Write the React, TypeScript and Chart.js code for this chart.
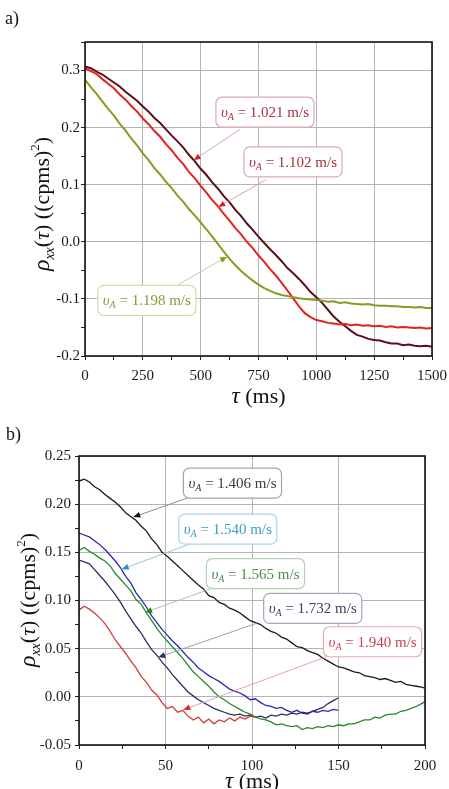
import { useEffect, useRef } from "react";
import { Chart, registerables } from "chart.js";

Chart.register(...registerables);

const FAMILY = '"Liberation Serif", "DejaVu Serif", "Times New Roman", serif';

// ---- panel a) : correlation vs delay, 0–1500 ms ----
const tA = [
  0, 25, 50, 75, 100, 125, 150, 175, 200, 225, 250, 275, 300, 325, 350, 375, 400, 425, 450, 475,
  500, 525, 550, 575, 600, 625, 650, 675, 700, 725, 750, 775, 800, 825, 850, 875, 900, 925, 950, 975,
  1000, 1025, 1050, 1075, 1100, 1125, 1150, 1175, 1200, 1225, 1250, 1275, 1300, 1325, 1350, 1375,
  1400, 1425, 1450, 1475, 1500,
];
const rho1021 = [
  0.307, 0.304, 0.298, 0.293, 0.286, 0.279, 0.272, 0.263, 0.255, 0.247, 0.237, 0.228, 0.217, 0.208,
  0.197, 0.186, 0.176, 0.165, 0.152, 0.141, 0.128, 0.117, 0.104, 0.093, 0.08, 0.069, 0.056, 0.045,
  0.032, 0.021, 0.009, -0.002, -0.013, -0.023, -0.034, -0.046, -0.055, -0.065, -0.076, -0.088,
  -0.097, -0.107, -0.119, -0.131, -0.14, -0.148, -0.156, -0.163, -0.166, -0.17, -0.172, -0.173,
  -0.176, -0.178, -0.178, -0.181, -0.18, -0.182, -0.183, -0.182, -0.184,
];
const rho1102 = [
  0.304, 0.299, 0.294, 0.285, 0.277, 0.269, 0.258, 0.249, 0.238, 0.228, 0.216, 0.206, 0.194, 0.184,
  0.171, 0.16, 0.147, 0.136, 0.122, 0.111, 0.098, 0.086, 0.073, 0.062, 0.049, 0.037, 0.024, 0.013,
  0.0, -0.011, -0.024, -0.035, -0.048, -0.059, -0.072, -0.085, -0.099, -0.113, -0.125, -0.132,
  -0.137, -0.139, -0.142, -0.143, -0.145, -0.144, -0.146, -0.145, -0.147, -0.146, -0.148, -0.147,
  -0.149, -0.148, -0.15, -0.149, -0.15, -0.151, -0.15, -0.152, -0.151,
];
const rho1198 = [
  0.284, 0.271, 0.259, 0.246, 0.233, 0.221, 0.207, 0.195, 0.181, 0.169, 0.155, 0.143, 0.129, 0.118,
  0.105, 0.094, 0.081, 0.07, 0.057, 0.046, 0.034, 0.022, 0.009, -0.004, -0.017, -0.03, -0.041,
  -0.051, -0.06, -0.068, -0.075, -0.081, -0.086, -0.09, -0.093, -0.095, -0.097, -0.099, -0.1,
  -0.101, -0.102, -0.103, -0.105, -0.104, -0.107, -0.106, -0.108, -0.109, -0.11, -0.109, -0.111,
  -0.112, -0.112, -0.113, -0.113, -0.114, -0.114, -0.115, -0.114, -0.116, -0.116,
];

// ---- panel b) : correlation vs delay, 0–200 ms ----
const tB = [
  0, 3, 6, 9, 12, 15, 18, 21, 24, 27, 30, 33, 36, 39, 42, 45, 48, 51, 54, 57, 60, 63, 66, 69, 72, 75,
  78, 81, 84, 87, 90, 93, 96, 99, 102, 105, 108, 111, 114, 117, 120, 123, 126, 129, 132, 135, 138,
  141, 144, 147, 150, 153, 156, 159, 162, 165, 168, 171, 174, 177, 180, 183, 186, 189, 192, 195, 198,
  200,
];
const rho1406 = [
  0.224, 0.226, 0.223, 0.218, 0.215, 0.21, 0.206, 0.202, 0.197, 0.191, 0.187, 0.183, 0.177, 0.172,
  0.164, 0.158, 0.15, 0.146, 0.141, 0.136, 0.131, 0.126, 0.121, 0.116, 0.112, 0.105, 0.103, 0.098,
  0.096, 0.092, 0.09, 0.087, 0.083, 0.079, 0.077, 0.075, 0.071, 0.068, 0.066, 0.062, 0.06, 0.056,
  0.052, 0.051, 0.048, 0.046, 0.044, 0.04, 0.037, 0.034, 0.031, 0.03, 0.028, 0.026, 0.025, 0.022,
  0.021, 0.02, 0.018, 0.019, 0.017, 0.015, 0.016, 0.013, 0.012, 0.011, 0.01, 0.009,
];
const rho1540 = [
  0.17, 0.168, 0.166, 0.162, 0.158, 0.153, 0.147, 0.141, 0.134, 0.125, 0.118, 0.108, 0.101, 0.093,
  0.084, 0.077, 0.07, 0.064, 0.058, 0.053, 0.047, 0.041, 0.036, 0.03, 0.026, 0.022, 0.019, 0.016,
  0.012, 0.008, 0.006, 0.004, 0.001, -0.003, -0.002, -0.006, -0.009, -0.01, -0.012, -0.011, -0.014,
  -0.016, -0.014, -0.017, -0.018, -0.015, -0.016, -0.014, -0.015, -0.013, -0.014,
];
const rho1565 = [
  0.152, 0.155, 0.151, 0.148, 0.144, 0.141, 0.136, 0.128, 0.122, 0.116, 0.11, 0.101, 0.096, 0.087,
  0.079, 0.071, 0.064, 0.058, 0.052, 0.046, 0.04, 0.033, 0.026, 0.021, 0.016, 0.011, 0.005, 0.0,
  -0.003, -0.007, -0.01, -0.013, -0.016, -0.018, -0.021, -0.023, -0.024, -0.026, -0.029, -0.028,
  -0.03, -0.031, -0.03, -0.034, -0.032, -0.033, -0.031, -0.032, -0.03, -0.031, -0.029, -0.03, -0.028,
  -0.028, -0.026, -0.024, -0.024, -0.021, -0.022, -0.019, -0.018, -0.018, -0.015, -0.014, -0.012,
  -0.01, -0.007, -0.005,
];
const rho1732 = [
  0.142, 0.14, 0.138, 0.132, 0.126, 0.12, 0.113, 0.106, 0.098, 0.089, 0.081, 0.073, 0.066, 0.057,
  0.049, 0.043, 0.036, 0.03, 0.023, 0.017, 0.011, 0.005, 0.001, -0.003, -0.006, -0.009, -0.012,
  -0.014, -0.016, -0.018, -0.019, -0.018, -0.02, -0.019, -0.021, -0.02, -0.022, -0.019, -0.02,
  -0.018, -0.019, -0.017, -0.018, -0.016, -0.017, -0.015, -0.013, -0.011, -0.007, -0.004, -0.001,
];
const rho1940 = [
  0.09, 0.094, 0.091, 0.087, 0.082, 0.076, 0.068, 0.059, 0.052, 0.045, 0.037, 0.03, 0.021, 0.015,
  0.007, 0.002, -0.006, -0.012, -0.01, -0.016, -0.014, -0.02, -0.024, -0.021, -0.027, -0.023, -0.028,
  -0.024, -0.026, -0.022, -0.025, -0.021, -0.023, -0.02, -0.021,
];

type Pt = [number, number];
type Callout = {
  speed: string;
  text: string;
  border: string;
  line: string;
  head: string;
  box: Pt;
  from: Pt;
  tip: Pt;
};

// callout boxes with leader arrows, placed in data units
const calloutsA: Callout[] = [
  { speed: "1.021", text: "#a8323e", border: "#dcaab2", line: "#dba2aa", head: "#cc2a2a", box: [778, 0.227], from: [670, 0.197], tip: [470, 0.143] },
  { speed: "1.102", text: "#a8323e", border: "#dcaab2", line: "#dba2aa", head: "#e02020", box: [899, 0.14], from: [783, 0.109], tip: [576, 0.061] },
  { speed: "1.198", text: "#8a983a", border: "#d2daa8", line: "#c6cf98", head: "#8a9a20", box: [267, -0.1025], from: [403, -0.0748], tip: [614, -0.026] },
];
const calloutsB: Callout[] = [
  { speed: "1.406", text: "#3c3c3c", border: "#a4a4a4", line: "#8c8c8c", head: "#111111", box: [88.7, 0.2218], from: [64.2, 0.2074], tip: [31.4, 0.1866] },
  { speed: "1.540", text: "#3d9ccb", border: "#a9d2e8", line: "#9cc6dc", head: "#2a8ed2", box: [86.0, 0.1741], from: [63.2, 0.158], tip: [24.7, 0.1325] },
  { speed: "1.565", text: "#4a8c4a", border: "#b2d2b2", line: "#a6c6a6", head: "#238a23", box: [102.0, 0.128], from: [76.7, 0.1125], tip: [38.2, 0.0876] },
  { speed: "1.732", text: "#3d3d62", border: "#a6a6bc", line: "#a0a0b2", head: "#2a2a66", box: [135.1, 0.0918], from: [102.7, 0.0763], tip: [45.8, 0.041] },
  { speed: "1.940", text: "#cf3f4f", border: "#e8aab2", line: "#e2a2aa", head: "#d83030", box: [169.7, 0.0572], from: [144.1, 0.0424], tip: [60.3, -0.0135] },
];

type Seg = { text: string; size: number; italic?: boolean; shift?: number };

function segFont(s: Seg) {
  return `${s.italic ? "italic " : ""}${s.size}px ${FAMILY}`;
}

function richWidth(ctx: CanvasRenderingContext2D, segs: Seg[]) {
  let w = 0;
  for (const s of segs) {
    ctx.font = segFont(s);
    w += ctx.measureText(s.text).width;
  }
  return w;
}

function drawRich(ctx: CanvasRenderingContext2D, segs: Seg[], cx: number, baseline: number, color: string) {
  let x = cx - richWidth(ctx, segs) / 2;
  ctx.fillStyle = color;
  ctx.textAlign = "left";
  ctx.textBaseline = "alphabetic";
  for (const s of segs) {
    ctx.font = segFont(s);
    ctx.fillText(s.text, x, baseline + (s.shift || 0));
    x += ctx.measureText(s.text).width;
  }
}

const yTitleSegs: Seg[] = [
  { text: "ρ", size: 24, italic: true },
  { text: "xx", size: 14, italic: true, shift: 5 },
  { text: "(", size: 22 },
  { text: "τ", size: 22, italic: true },
  { text: ") ((cpms)", size: 22 },
  { text: "2", size: 13, shift: -10 },
  { text: ")", size: 22 },
];
const xTitleSegs: Seg[] = [
  { text: "τ", size: 23, italic: true },
  { text: " (ms)", size: 22 },
];

function calloutSegs(speed: string): Seg[] {
  return [
    { text: "υ", size: 15, italic: true },
    { text: "A", size: 10, italic: true, shift: 3 },
    { text: ` = ${speed} m/s`, size: 15 },
  ];
}

type DecorSpec = { callouts: Callout[]; yTitleX: number; yTitleMid: number; xTitleY: number };

function decorPlugin(spec: DecorSpec) {
  return {
    id: "decor",
    afterDatasetsDraw(chart: any) {
      const { ctx, chartArea: a, scales } = chart;
      const xs = scales.x;
      const ys = scales.y;
      ctx.save();

      // callouts: leader line, arrow head, rounded label box
      for (const c of spec.callouts) {
        const fx = xs.getPixelForValue(c.from[0]);
        const fy = ys.getPixelForValue(c.from[1]);
        const tx = xs.getPixelForValue(c.tip[0]);
        const ty = ys.getPixelForValue(c.tip[1]);
        ctx.strokeStyle = c.line;
        ctx.lineWidth = 1;
        ctx.beginPath();
        ctx.moveTo(fx, fy);
        ctx.lineTo(tx, ty);
        ctx.stroke();
        const ang = Math.atan2(ty - fy, tx - fx);
        const L = 7;
        const W = 3;
        ctx.fillStyle = c.head;
        ctx.beginPath();
        ctx.moveTo(tx, ty);
        ctx.lineTo(tx - L * Math.cos(ang) + W * Math.sin(ang), ty - L * Math.sin(ang) - W * Math.cos(ang));
        ctx.lineTo(tx - L * Math.cos(ang) - W * Math.sin(ang), ty - L * Math.sin(ang) + W * Math.cos(ang));
        ctx.closePath();
        ctx.fill();

        const segs = calloutSegs(c.speed);
        const bw = richWidth(ctx, segs) + 10;
        const bh = 30;
        const bx = xs.getPixelForValue(c.box[0]);
        const by = ys.getPixelForValue(c.box[1]);
        ctx.beginPath();
        ctx.roundRect(bx - bw / 2, by - bh / 2, bw, bh, 6);
        ctx.fillStyle = "#ffffff";
        ctx.fill();
        ctx.strokeStyle = c.border;
        ctx.lineWidth = 1.2;
        ctx.stroke();
        drawRich(ctx, segs, bx, by + 5, c.text);
      }

      // plot frame
      ctx.strokeStyle = "#111";
      ctx.lineWidth = 1.6;
      ctx.strokeRect(a.left, a.top, a.right - a.left, a.bottom - a.top);

      // axis titles
      drawRich(ctx, xTitleSegs, (a.left + a.right) / 2, spec.xTitleY, "#111");
      ctx.translate(spec.yTitleX, spec.yTitleMid);
      ctx.rotate(-Math.PI / 2);
      drawRich(ctx, yTitleSegs, 0, 7, "#111");
      ctx.restore();
    },
  };
}

function isMajor(v: number, major: number) {
  const r = v / major;
  return Math.abs(r - Math.round(r)) < 1e-6;
}

function tickText(v: number, major: number, digits: number) {
  if (!isMajor(v, major)) return "";
  const n = Math.round(v / major) * major;
  return (Math.abs(n) < 1e-9 ? 0 : n).toFixed(digits);
}

function linearAxis(o: {
  min: number;
  max: number;
  step: number;
  major: number;
  digits: number;
  size: number;
  padding: number;
  fixed: { width?: number; height?: number };
}) {
  return {
    type: "linear" as const,
    min: o.min,
    max: o.max,
    afterFit(scale: any) {
      if (o.fixed.width !== undefined) scale.width = o.fixed.width;
      if (o.fixed.height !== undefined) scale.height = o.fixed.height;
      scale.paddingLeft = 0;
      scale.paddingRight = 0;
      scale.paddingTop = 0;
      scale.paddingBottom = 0;
    },
    ticks: {
      stepSize: o.step,
      autoSkip: false,
      maxRotation: 0,
      padding: o.padding,
      color: "#1a1a1a",
      font: { family: FAMILY, size: o.size },
      callback: (v: any) => tickText(Number(v), o.major, o.digits),
    },
    grid: {
      color: (ctx: any) => (ctx.tick && isMajor(ctx.tick.value, o.major) ? "#b4b4b4" : "rgba(0,0,0,0)"),
      tickColor: "#222",
      tickLength: 4,
      lineWidth: 1,
    },
    border: { display: false },
  };
}

function pts(xs: number[], ys: number[]) {
  return ys.map((y, i) => ({ x: xs[i], y }));
}

function series(label: string, xs: number[], ys: number[], color: string, width: number) {
  return {
    label,
    data: pts(xs, ys),
    borderColor: color,
    borderWidth: width,
    pointRadius: 0,
    fill: false,
    tension: 0,
  };
}

function configA(): any {
  return {
    type: "line",
    data: {
      datasets: [
        series("1.198 m/s", tA, rho1198, "#8a9a22", 2),
        series("1.102 m/s", tA, rho1102, "#e2231f", 2),
        series("1.021 m/s", tA, rho1021, "#5a1016", 2),
      ],
    },
    options: {
      animation: false,
      responsive: false,
      layout: { padding: { left: 0, top: 42, right: 17, bottom: 0 } },
      plugins: { legend: { display: false }, tooltip: { enabled: false } },
      scales: {
        x: linearAxis({ min: 0, max: 1500, step: 125, major: 250, digits: 0, size: 15, padding: 7, fixed: { height: 54 } }),
        y: linearAxis({ min: -0.2, max: 0.35, step: 0.05, major: 0.1, digits: 1, size: 15, padding: 1, fixed: { width: 85 } }),
      },
    },
    plugins: [decorPlugin({ callouts: calloutsA, yTitleX: 42, yTitleMid: 204, xTitleY: 403 })],
  };
}

function configB(): any {
  return {
    type: "line",
    data: {
      datasets: [
        series("1.406 m/s", tB, rho1406, "#1a1a1a", 1.3),
        series("1.940 m/s", tB, rho1940, "#d83a3a", 1.3),
        series("1.565 m/s", tB, rho1565, "#258a25", 1.3),
        series("1.732 m/s", tB, rho1732, "#2e2e66", 1.3),
        series("1.540 m/s", tB, rho1540, "#2a2ab4", 1.3),
      ],
    },
    options: {
      animation: false,
      responsive: false,
      layout: { padding: { left: 0, top: 46, right: 24, bottom: 0 } },
      plugins: { legend: { display: false }, tooltip: { enabled: false } },
      scales: {
        x: linearAxis({ min: 0, max: 200, step: 25, major: 50, digits: 0, size: 15, padding: 8, fixed: { height: 44 } }),
        y: linearAxis({ min: -0.05, max: 0.25, step: 0.025, major: 0.05, digits: 2, size: 15, padding: 4, fixed: { width: 79 } }),
      },
    },
    plugins: [decorPlugin({ callouts: calloutsB, yTitleX: 28, yTitleMid: 190, xTitleY: 378 })],
  };
}

function Panel({ top, width, height, make }: { top: number; width: number; height: number; make: () => any }) {
  const ref = useRef<HTMLCanvasElement>(null);
  useEffect(() => {
    const chart = new Chart(ref.current as HTMLCanvasElement, make());
    return () => chart.destroy();
  }, [make]);
  return (
    <canvas
      ref={ref}
      width={width}
      height={height}
      style={{ position: "absolute", left: 0, top, width, height, display: "block" }}
    />
  );
}

const tagStyle = {
  position: "absolute" as const,
  fontFamily: FAMILY,
  fontSize: 18,
  color: "#111",
  lineHeight: "20px",
};

export default function App() {
  return (
    <div style={{ position: "absolute", left: 0, top: 0, width: 449, height: 789, background: "#fff", overflow: "hidden" }}>
      <Panel top={0} width={449} height={410} make={configA} />
      <Panel top={410} width={449} height={379} make={configB} />
      <div style={{ ...tagStyle, left: 5, top: 8 }}>a)</div>
      <div style={{ ...tagStyle, left: 6, top: 424 }}>b)</div>
    </div>
  );
}
